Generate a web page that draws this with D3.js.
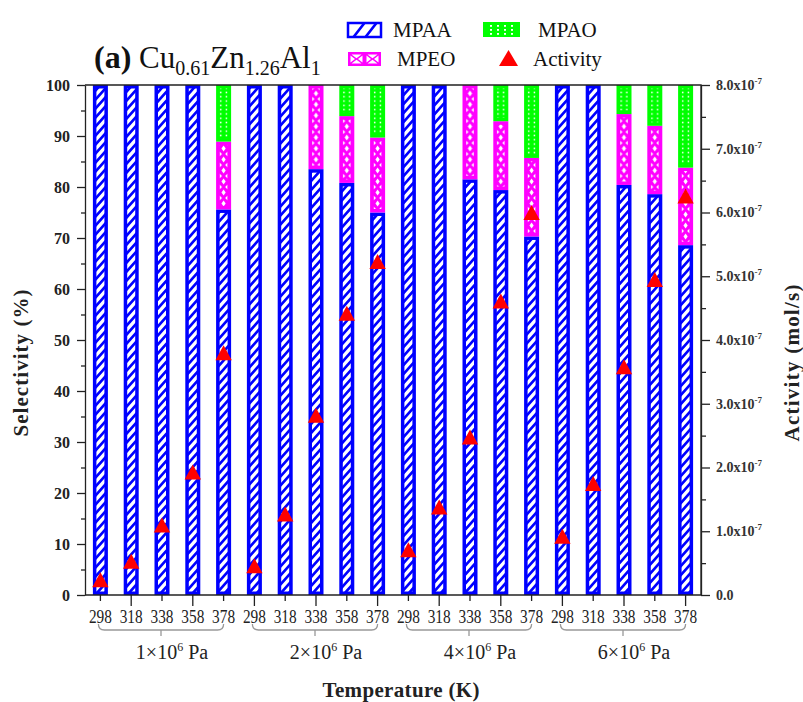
<!DOCTYPE html>
<html>
<head>
<meta charset="utf-8">
<script src="https://cdn.jsdelivr.net/npm/d3@7"></script>
<style>
body{margin:0;background:#fff}
text{font-family:"Liberation Serif","Times New Roman",serif}
</style>
</head>
<body>
<div id="viz"></div>
<script>
///Data
// pressure groups (x10^6 Pa) and temperatures (K)
const PRESSURES = ["1", "2", "4", "6"];
const TEMPS = [298, 318, 338, 358, 378];
// selectivity (%), one value per bar, groups in the order of PRESSURES
const MPAA = [100, 100, 100, 100, 75.6,  100, 100, 83.5, 80.8, 75.0,  100, 100, 81.5, 79.4, 70.3,  100, 100, 80.4, 78.6, 68.6];
const MPEO = [0, 0, 0, 0, 13.3,  0, 0, 16.5, 13.1, 14.7,  0, 0, 18.5, 13.5, 15.4,  0, 0, 13.9, 13.4, 15.2];
const MPAO = [0, 0, 0, 0, 11.1,  0, 0, 0, 6.1, 10.3,  0, 0, 0, 7.1, 14.3,  0, 0, 5.7, 8.0, 16.2];
// activity (mol/s)
const ACTIVITY = [0.24e-7, 0.53e-7, 1.10e-7, 1.93e-7, 3.80e-7,  0.46e-7, 1.27e-7, 2.82e-7, 4.42e-7, 5.23e-7,
                  0.71e-7, 1.38e-7, 2.48e-7, 4.61e-7, 6.00e-7,  0.92e-7, 1.75e-7, 3.58e-7, 4.95e-7, 6.26e-7];
const SEL_TICKS = [0, 10, 20, 30, 40, 50, 60, 70, 80, 90, 100];
const ACT_TICKS = [0, 1e-7, 2e-7, 3e-7, 4e-7, 5e-7, 6e-7, 7e-7, 8e-7];

///Layout
const width = 803, height = 702;
const L = 85, R = 701, T = 85, B = 595;
const BLUE = "#0000ff", MAG = "#ff00ff", GREEN = "#00ff00", RED = "#ff0000", INK = "#222";
const SERIF = "'Liberation Serif', 'Times New Roman', serif";
const barW = 15, bs = 3.5;

var svg = d3.select('#viz').append('svg').attr('width', width).attr('height', height);

var bars = MPAA.map((a, i) => ({i: i, a: a, e: MPEO[i], o: MPAO[i], act: ACTIVITY[i]}));

var x = d3.scaleBand().domain(d3.range(bars.length)).range([L, R]);
var y = d3.scaleLinear().domain([0, 100]).range([B, T]);
var yR = d3.scaleLinear().domain([0, 8e-7]).range([B, T]);
const xc = i => x(i) + x.bandwidth() / 2;

//patterns
var defs = svg.append("defs");
var hatch = defs.append("pattern").attr("id", "hatch").attr("patternUnits", "userSpaceOnUse")
    .attr("width", 8).attr("height", 9);
hatch.append("rect").attr("width", 8).attr("height", 9).attr("fill", "#fff");
hatch.append("path").attr("d", "M-4,4.5L4,-4.5M0,9L8,0M4,13.5L12,4.5")
    .attr("stroke", BLUE).attr("stroke-width", 2.6);

var left0 = xc(0) - barW / 2;
var cross = defs.append("pattern").attr("id", "cross").attr("patternUnits", "userSpaceOnUse")
    .attr("x", left0).attr("y", 0).attr("width", x.step()).attr("height", 11);
cross.append("rect").attr("width", barW).attr("height", 11).attr("fill", MAG);
cross.append("path").attr("fill", "#fff")
    .attr("d", "M7.5,2.6L9.6,5.5L7.5,8.4L5.4,5.5Z" +
               "M3.5,-2.4L5.9,0L3.5,2.4Z M3.5,8.6L5.9,11L3.5,13.4Z" +
               "M11.5,-2.4L9.1,0L11.5,2.4Z M11.5,8.6L9.1,11L11.5,13.4Z");

var dots = defs.append("pattern").attr("id", "dots").attr("patternUnits", "userSpaceOnUse")
    .attr("x", left0).attr("y", 0).attr("width", x.step()).attr("height", 4.3);
dots.append("rect").attr("width", barW).attr("height", 4.3).attr("fill", GREEN);
dots.append("rect").attr("x", 3.8).attr("y", 1.4).attr("width", 1.6).attr("height", 1.5).attr("fill", "#fff");
dots.append("rect").attr("x", 9.6).attr("y", 1.4).attr("width", 1.6).attr("height", 1.5).attr("fill", "#fff");

//stacked bars
var segs = [];
bars.forEach(d => {
    segs.push({i: d.i, y0: 0, y1: d.a, fill: "url(#hatch)", stroke: BLUE});
    if (d.e > 0) segs.push({i: d.i, y0: d.a, y1: d.a + d.e, fill: "url(#cross)", stroke: MAG});
    if (d.o > 0) segs.push({i: d.i, y0: d.a + d.e, y1: d.a + d.e + d.o, fill: "url(#dots)", stroke: GREEN});
});
svg.append("g").selectAll("rect").data(segs).enter().append("rect")
    .attr("x", d => xc(d.i) - barW / 2 + bs / 2)
    .attr("width", barW - bs)
    .attr("y", d => y(d.y1) + bs / 2)
    .attr("height", d => y(d.y0) - y(d.y1) - bs)
    .attr("fill", d => d.fill)
    .attr("stroke", d => d.stroke)
    .attr("stroke-width", bs);

//frame
svg.append("path").attr("d", `M${L},${T}H${R}V${B}`).attr("fill", "none")
    .attr("stroke", INK).attr("stroke-width", 1.3);

//left axis
var gl = svg.append("g").attr("transform", `translate(${L},0)`)
    .call(d3.axisLeft(y).tickValues(SEL_TICKS).tickSize(8).tickSizeOuter(0).tickPadding(7));
gl.selectAll("text").attr("font-weight", "bold").attr("font-size", 16).attr("fill", INK);
gl.append("g").call(d3.axisLeft(y).tickValues(SEL_TICKS.slice(1).map(v => v - 5)).tickSize(4).tickFormat(""))
    .select(".domain").remove();

//right axis
var gr = svg.append("g").attr("transform", `translate(${R},0)`)
    .call(d3.axisRight(yR).tickValues(ACT_TICKS).tickSize(9).tickSizeOuter(0).tickPadding(6)
        .tickFormat(d => d === 0 ? "0.0" : (d / 1e-7).toFixed(1) + "x10"));
gr.selectAll("text").attr("font-weight", "bold").attr("font-size", 14).attr("fill", "#333");
gr.selectAll(".tick text").filter(d => d > 0).append("tspan")
    .attr("dy", -6).attr("font-size", 9).text("-7");
gr.append("g").call(d3.axisRight(yR).tickValues(ACT_TICKS.slice(1).map(v => v - 0.5e-7)).tickSize(5).tickFormat(""))
    .select(".domain").remove();

//bottom axis
var gb = svg.append("g").attr("transform", `translate(0,${B})`)
    .call(d3.axisBottom(x).tickSize(6).tickSizeOuter(0).tickFormat(i => TEMPS[i % TEMPS.length]));
gb.select(".domain").attr("d", `M${L},0H${R}`);
gb.selectAll(".tick line").attr("y2", d => d % 2 ? 11 : 6);
gb.selectAll(".tick text").attr("dy", null).attr("y", 28)
    .attr("font-size", 19).attr("fill", INK)
    .attr("textLength", 23).attr("lengthAdjust", "spacingAndGlyphs");
svg.selectAll(".domain, .tick line").attr("stroke", INK).attr("stroke-width", 1.3);

//pressure brackets
var n = TEMPS.length;
PRESSURES.forEach((p, g) => {
    let x0 = xc(g * n) - 2, x1 = xc(g * n + n - 1), mid = (x0 + x1) / 2, by = 630;
    svg.append("path")
        .attr("d", `M${x0},${by - 6}Q${x0},${by} ${x0 + 6},${by}H${x1 - 6}Q${x1},${by} ${x1},${by - 6}M${mid},${by}V${by + 6}`)
        .attr("fill", "none").attr("stroke", "#999").attr("stroke-width", 1.3);
    let t = svg.append("text").attr("x", mid + 11).attr("y", 659).attr("text-anchor", "middle")
        .attr("font-size", 20).attr("fill", INK);
    t.append("tspan").text(p + "×10");
    t.append("tspan").attr("dy", -8).attr("font-size", 12).text("6");
    t.append("tspan").attr("dy", 8).text(" Pa");
});

//activity markers
svg.append("g").selectAll("path").data(bars).enter().append("path")
    .attr("d", "M0,-7.5L8.2,7.5L-8.2,7.5Z")
    .attr("fill", RED)
    .attr("transform", d => `translate(${xc(d.i)},${yR(d.act)})`);

//axis titles
svg.append("text").attr("transform", "translate(28,363) rotate(-90)").attr("text-anchor", "middle")
    .attr("font-weight", "bold").attr("font-size", 21).attr("fill", INK)
    .attr("textLength", 147).text("Selectivity (%)");
svg.append("text").attr("transform", "translate(799,363) rotate(-90)").attr("text-anchor", "middle")
    .attr("font-weight", "bold").attr("font-size", 21).attr("fill", INK)
    .attr("textLength", 157).text("Activity (mol/s)");
svg.append("text").attr("x", 401).attr("y", 697).attr("text-anchor", "middle")
    .attr("font-weight", "bold").attr("font-size", 21).attr("fill", INK)
    .attr("textLength", 157).text("Temperature (K)");

//title
var title = svg.append("text").attr("x", 94).attr("y", 68).attr("fill", "#111");
title.append("tspan").attr("font-weight", "bold").attr("font-size", 32).text("(a)");
title.append("tspan").attr("font-size", 31).text(" Cu");
title.append("tspan").attr("font-size", 20).attr("dy", 7).text("0.61");
title.append("tspan").attr("font-size", 31).attr("dy", -7).text("Zn");
title.append("tspan").attr("font-size", 20).attr("dy", 7).text("1.26");
title.append("tspan").attr("font-size", 31).attr("dy", -7).text("Al");
title.append("tspan").attr("font-size", 20).attr("dy", 7).text("1");

//legend
var lg = svg.append("g");
// MPAA
lg.append("clipPath").attr("id", "clipA").append("rect").attr("x", 348).attr("y", 23).attr("width", 33).attr("height", 14);
lg.append("rect").attr("x", 348).attr("y", 23).attr("width", 33).attr("height", 14).attr("fill", "#fff");
lg.append("path").attr("clip-path", "url(#clipA)").attr("d", "M352,39L366,21M364,39L378,21")
    .attr("stroke", BLUE).attr("stroke-width", 2.6);
lg.append("rect").attr("x", 348).attr("y", 23).attr("width", 33).attr("height", 14)
    .attr("fill", "none").attr("stroke", BLUE).attr("stroke-width", 2.5);
// MPAO
lg.append("rect").attr("x", 483).attr("y", 22).attr("width", 37).attr("height", 15).attr("fill", GREEN);
lg.append("g").selectAll("rect").data(d3.cross([0, 1, 2, 3], [0, 1, 2])).enter().append("rect")
    .attr("x", d => 490 + d[0] * 7).attr("y", d => 25 + d[1] * 4).attr("width", 2).attr("height", 1.8).attr("fill", "#fff");
// MPEO
lg.append("rect").attr("x", 348).attr("y", 52).attr("width", 33).attr("height", 14).attr("fill", MAG);
[356.5, 372.5].forEach(cx => {
    lg.append("path").attr("fill", "#fff").attr("d",
        `M${cx - 5},${54.5}L${cx + 5},${54.5}L${cx},${58.3}Z` +
        `M${cx - 5},${63.5}L${cx + 5},${63.5}L${cx},${59.7}Z` +
        `M${cx - 6},${55.5}L${cx - 6},${62.5}L${cx - 1.5},${59}Z` +
        `M${cx + 6},${55.5}L${cx + 6},${62.5}L${cx + 1.5},${59}Z`);
});
// Activity
lg.append("path").attr("d", "M0,-8L9.5,8L-9.5,8Z").attr("fill", RED).attr("transform", "translate(508.5,58)");

[["MPAA", 393, 37], ["MPAO", 538, 37], ["MPEO", 397, 66], ["Activity", 533, 66]].forEach(d => {
    lg.append("text").attr("x", d[1]).attr("y", d[2]).attr("font-size", 21).attr("fill", "#111").text(d[0]);
});

// one serif face for every label
svg.selectAll("text").style("font-family", SERIF);
</script>
</body>
</html>
